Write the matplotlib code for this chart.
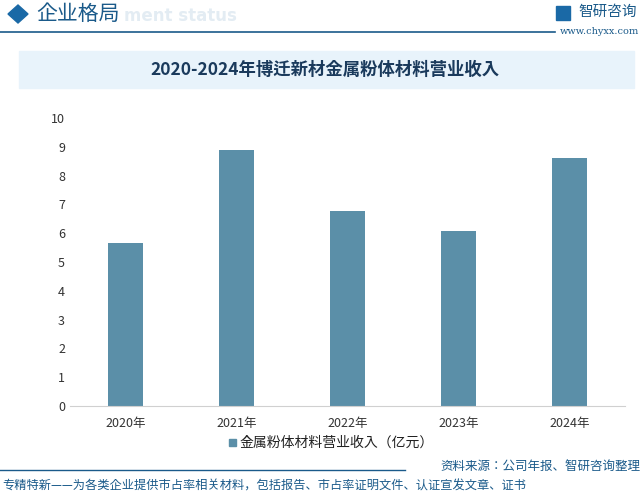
import matplotlib.pyplot as plt
from matplotlib.patches import Rectangle, Polygon

plt.rcParams["font.family"] = ["Noto Sans CJK SC", "Noto Sans CJK JP", "DejaVu Sans"]

years = ["2020年", "2021年", "2022年", "2023年", "2024年"]
revenue = [5.66, 8.89, 6.77, 6.08, 8.61]
yticks = list(range(0, 11))

W, H = 642, 496
fig = plt.figure(figsize=(W / 100, H / 100), dpi=100)
fig.patch.set_facecolor("white")

def fx(px):
    return px / W

def fy(py):
    return 1 - py / H

# header
fig.patches.append(Polygon([[fx(8), fy(14)], [fx(18), fy(5)], [fx(28), fy(14)], [fx(18), fy(23)]],
                           closed=True, transform=fig.transFigure, color="#1a69a6"))
fig.text(fx(124), fy(16), "ment status", fontsize=12, color="#e3ecf3",
         va="center", fontweight="bold", zorder=0, family="DejaVu Sans")
fig.text(fx(36), fy(14), "企业格局", fontsize=15, color="#1a5a8a", va="center")
fig.add_artist(plt.Line2D([0, fx(555)], [fy(32), fy(32)], color="#1a5a8a", lw=1.2))
fig.text(fx(578), fy(12), "智研咨询", fontsize=10.5, color="#1a5a8a", va="center")
fig.text(fx(560), fy(31), "www.chyxx.com", fontsize=7, color="#1a5a8a", va="center", family="DejaVu Serif")
fig.patches.append(Rectangle((fx(556), fy(20)), fx(14), 14 / H, transform=fig.transFigure, color="#1a69a6"))

# title band
fig.patches.append(Rectangle((fx(19), fy(88)), fx(615), 37 / H, transform=fig.transFigure,
                             color="#e8f3fb", zorder=0))
fig.text(fx(325), fy(70), "2020-2024年博迁新材金属粉体材料营业收入", fontsize=12.5,
         color="#1a3a5c", ha="center", va="center", fontweight="bold")

ax = fig.add_axes([fx(70), fy(406), fx(555), (406 - 118) / H])
ax.bar(range(len(years)), revenue, width=0.32, color="#5b8fa8")
ax.set_ylim(0, 10)
ax.set_xlim(-0.5, len(years) - 0.5)
ax.set_yticks(yticks)
ax.set_xticks(range(len(years)))
ax.set_xticklabels(years)
ax.tick_params(axis="both", length=0, labelsize=9, colors="#333333")
ax.tick_params(axis="x", pad=8)
for s in ["top", "right", "left"]:
    ax.spines[s].set_visible(False)
ax.spines["bottom"].set_color("#d0d0d0")
ax.set_facecolor("none")

# legend
fig.patches.append(Rectangle((fx(229), fy(446)), fx(7), 7 / H, transform=fig.transFigure, color="#5b8fa8"))
fig.text(fx(239), fy(443), "金属粉体材料营业收入（亿元）", fontsize=10, color="#222222", va="center")

# footer
fig.add_artist(plt.Line2D([0, fx(405)], [fy(470), fy(470)], color="#1a5a8a", lw=1))
fig.text(fx(640), fy(466), "资料来源：公司年报、智研咨询整理", fontsize=9, color="#1a5a8a",
         ha="right", va="center")
fig.text(fx(2), fy(486), "专精特新——为各类企业提供市占率相关材料，包括报告、市占率证明文件、认证宣发文章、证书",
         fontsize=8.8, color="#1a5a8a", va="center")

fig.savefig("out.png", dpi=100)
